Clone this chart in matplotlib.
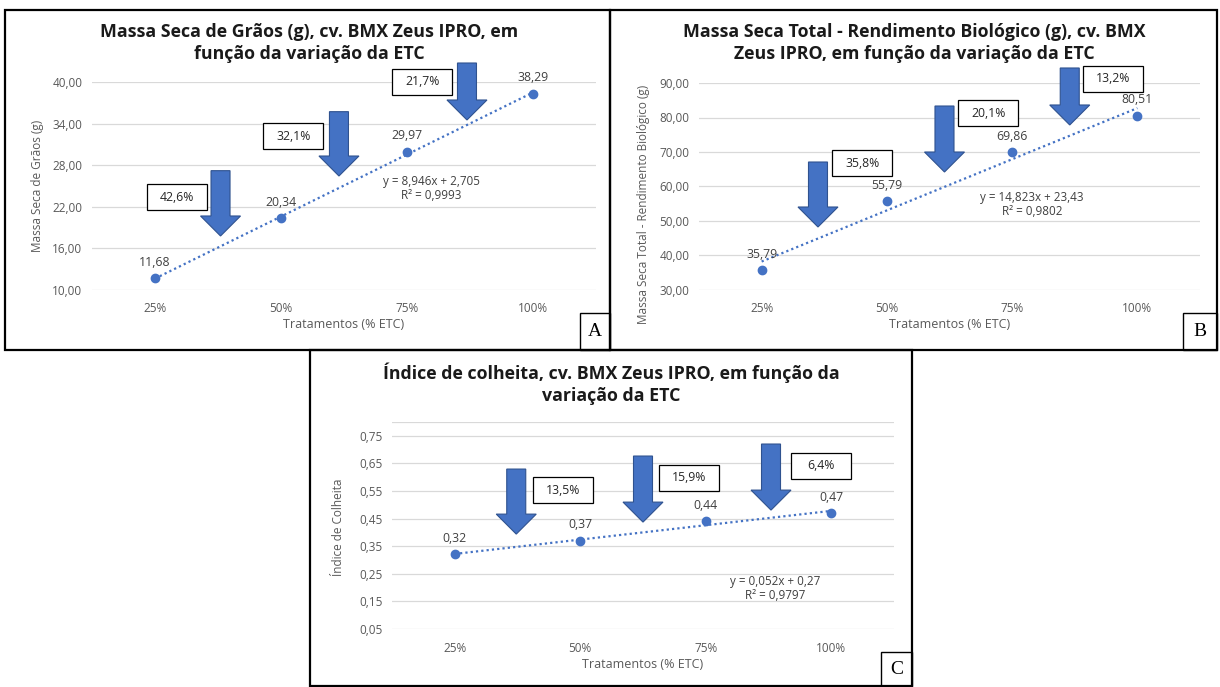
import numpy as np
import matplotlib
matplotlib.use("Agg")
import matplotlib.pyplot as plt
from matplotlib.patches import Polygon, Rectangle

plt.rcParams['font.family'] = ['Open Sans', 'DejaVu Sans']

W, H = 1220, 687

# dados
categorias = ['25%', '50%', '75%', '100%']
graos = [11.68, 20.34, 29.97, 38.29]
total = [35.79, 55.79, 69.86, 80.51]
indice = [0.32, 0.37, 0.44, 0.47]

reducao_graos = ['42,6%', '32,1%', '21,7%']
reducao_total = ['35,8%', '20,1%', '13,2%']
reducao_indice = ['13,5%', '15,9%', '6,4%']

eq_graos = 'y = 8,946x + 2,705\nR² = 0,9993'
eq_total = 'y = 14,823x + 23,43\nR² = 0,9802'
eq_indice = 'y = 0,052x + 0,27\nR² = 0,9797'

AZUL = '#4472C4'
GRADE = '#D9D9D9'
CINZA = '#595959'


def fx(px):
    return px / W


def fy(py):
    return 1 - py / H


def virgula(v, d):
    return f"{v:.{d}f}".replace('.', ',')


def seta(ax, xc, ytop, ytip):
    # seta de bloco (forma do Office), tamanhos em pixels
    p_top = ax.transData.transform((xc, ytop))
    p_tip = ax.transData.transform((xc, ytip))
    x0 = p_top[0]
    hs, hh, hl = 9.5, 20, 20
    pts = [(x0 - hs, p_top[1]), (x0 + hs, p_top[1]), (x0 + hs, p_tip[1] + hl),
           (x0 + hh, p_tip[1] + hl), (x0, p_tip[1]), (x0 - hh, p_tip[1] + hl),
           (x0 - hs, p_tip[1] + hl)]
    pts = ax.transAxes.inverted().transform(pts)
    ax.add_patch(Polygon(pts, closed=True, transform=ax.transAxes, clip_on=False,
                         fc=AZUL, ec='#2F528F', lw=0.8, zorder=4))


def caixa(ax, xc, yc, txt):
    c = ax.transData.transform((xc, yc))
    w, h = 60, 26
    p0 = ax.transAxes.inverted().transform((c[0] - w / 2, c[1] - h / 2))
    p1 = ax.transAxes.inverted().transform((c[0] + w / 2, c[1] + h / 2))
    ax.add_patch(Rectangle(p0, p1[0] - p0[0], p1[1] - p0[1], transform=ax.transAxes,
                           clip_on=False, fc='white', ec='black', lw=0.9, zorder=5))
    ax.text(xc, yc, txt, ha='center', va='center', fontsize=8.8, color='#262626', zorder=6)


def painel(rect, valores, ylim, yticks, dec, topo_extra, setas, caixas, reducoes,
           eq, eq_pos):
    l, t, r, b = rect
    ax = fig.add_axes([fx(l), fy(b), (r - l) / W, (b - t) / H])
    x = np.arange(len(categorias)) + 0.5
    ax.set_xlim(0, 4)
    ax.set_ylim(*ylim)
    ax.set_yticks(yticks)
    ax.set_yticklabels([virgula(v, dec) for v in yticks])
    ax.set_xticks(x)
    ax.set_xticklabels(categorias)
    ax.tick_params(length=0, labelsize=8.5, labelcolor=CINZA)
    ax.tick_params(axis='x', pad=9)
    ax.tick_params(axis='y', pad=7)
    for s in ax.spines.values():
        s.set_visible(False)
    ax.grid(axis='y', color=GRADE, lw=0.9)
    ax.set_axisbelow(True)
    if topo_extra:
        ax.axhline(ylim[1], color=GRADE, lw=0.9, zorder=0)

    a, c0 = np.polyfit(np.arange(1, 5), valores, 1)
    ax.plot(x, a * np.arange(1, 5) + c0, ls=(0, (1, 1.4)), color=AZUL, lw=1.6, zorder=2)
    ax.plot(x, valores, 'o', color=AZUL, ms=6, zorder=3)
    for xi, v in zip(x, valores):
        ax.annotate(virgula(v, 2), (xi, v), xytext=(0, 11.5), textcoords='offset points',
                    ha='center', va='center', fontsize=8.8, color='#404040', zorder=6)

    for (xc, yt, yp) in setas:
        seta(ax, xc, yt, yp)
    for (xc, yc), txt in zip(caixas, reducoes):
        caixa(ax, xc, yc, txt)
    ax.text(eq_pos[0], eq_pos[1], eq, ha='center', va='center', fontsize=8.4,
            color='#404040', linespacing=1.1)
    return ax


def moldura(l, t, r, b, lw=1.6):
    fig.add_artist(Rectangle((fx(l), fy(b)), (r - l) / W, (b - t) / H,
                             transform=fig.transFigure, fill=False, ec='black', lw=lw))


def titulo(xc, y1, y2, l1, l2):
    for yy, txt in ((y1, l1), (y2, l2)):
        fig.text(fx(xc), fy(yy), txt, ha='center', va='center', fontsize=12.8,
                 fontweight='bold', color='#1a1a1a')


def rotulo_eixos(xl, yl, ylabel):
    fig.text(fx(xl[0]), fy(xl[1]), 'Tratamentos (% ETC)', ha='center', va='center',
             fontsize=9, color=CINZA)
    fig.text(fx(yl[0]), fy(yl[1]), ylabel, ha='center', va='center', rotation=90,
             fontsize=8.5, color=CINZA)


def letra(l, t, r, b, txt):
    moldura(l, t, r, b, lw=1.0)
    fig.text(fx((l + r) / 2), fy((t + b) / 2), txt, ha='center', va='center',
             fontsize=14, family='Liberation Serif')


fig = plt.figure(figsize=(W / 100, H / 100), dpi=100)

# A
painel((92, 82, 596, 290), graos, (10, 40), np.arange(10, 41, 6), 2, False,
       [(1.02, 27.21, 17.79), (1.96, 35.72, 26.44), (2.976, 42.74, 34.52)],
       [(0.676, 23.41), (1.599, 32.14), (2.623, 40.07)], reducao_graos,
       eq_graos, (2.69, 24.7))
titulo(309, 32, 54, 'Massa Seca de Grãos (g), cv. BMX Zeus IPRO, em',
       'função da variação da ETC')
rotulo_eixos((344, 325), (38, 186), 'Massa Seca de Grãos (g)')

# B
painel((699, 83, 1200, 290), total, (30, 90), np.arange(30, 91, 10), 2, False,
       [(0.95, 67.1, 48.26), (1.96, 83.33, 64.2), (2.96, 94.35, 77.83)],
       [(1.305, 66.67), (2.31, 81.16), (3.304, 91.3)], reducao_total,
       eq_total, (2.66, 54.64))
titulo(914, 32, 54, 'Massa Seca Total - Rendimento Biológico (g), cv. BMX',
       'Zeus IPRO, em função da variação da ETC')
rotulo_eixos((950, 325), (643, 204), 'Massa Seca Total - Rendimento Biológico (g)')

# C
painel((392, 422, 894, 629), indice, (0.05, 0.8), np.arange(0.05, 0.76, 0.1), 2, True,
       [(0.99, 0.6295, 0.3938), (2.0, 0.6767, 0.4373), (3.02, 0.7202, 0.4808)],
       [(1.365, 0.5534), (2.37, 0.5987), (3.416, 0.6422)], reducao_indice,
       eq_indice, (3.05, 0.198))
titulo(611, 373, 396, 'Índice de colheita, cv. BMX Zeus IPRO, em função da',
       'variação da ETC')
rotulo_eixos((643, 664), (338, 527), 'Índice de Colheita')

moldura(5, 10, 610, 350)
moldura(610, 10, 1217, 350)
moldura(310, 350, 912, 686)
letra(580, 313, 610, 350, 'A')
letra(1183, 313, 1217, 350, 'B')
letra(881, 652, 912, 686, 'C')

fig.savefig('out.png', dpi=100)
